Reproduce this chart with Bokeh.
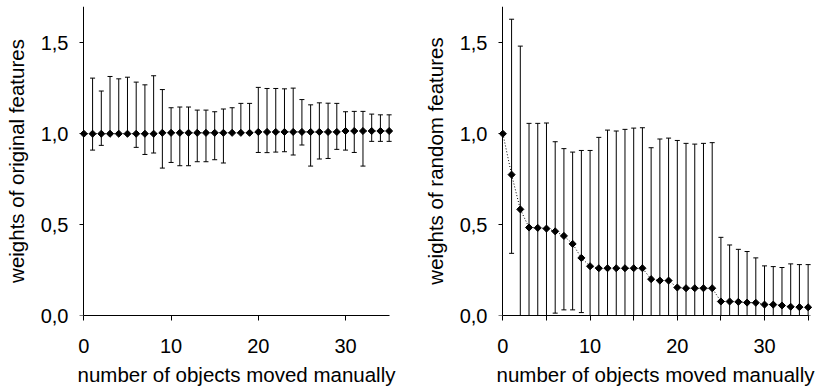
import math
from bokeh.plotting import figure
from bokeh.models import (Range1d, FixedTicker, CustomJSTickFormatter, Whisker,
                          TeeHead, ColumnDataSource, LinearAxis)
from bokeh.layouts import row
from bokeh.embed import file_html
from bokeh.resources import INLINE

# ---------------- data ----------------
moved = list(range(36))

orig_mean = [1.000, 1.000, 1.000, 1.000, 1.000, 1.000, 1.000, 1.000, 1.000, 1.005,
             1.005, 1.005, 1.005, 1.005, 1.005, 1.005, 1.005, 1.005, 1.005, 1.005,
             1.010, 1.010, 1.010, 1.010, 1.010, 1.010, 1.010, 1.010, 1.010, 1.010,
             1.015, 1.015, 1.015, 1.015, 1.015, 1.015]
orig_upper = [1.000, 1.306, 1.235, 1.315, 1.302, 1.311, 1.284, 1.269, 1.319, 1.243,
              1.143, 1.147, 1.147, 1.130, 1.130, 1.121, 1.136, 1.143, 1.167, 1.167,
              1.255, 1.249, 1.249, 1.247, 1.251, 1.188, 1.159, 1.170, 1.168, 1.167,
              1.121, 1.123, 1.123, 1.108, 1.104, 1.104]
orig_lower = [1.000, 0.910, 0.936, 1.000, 1.000, 1.000, 0.925, 0.886, 0.894, 0.811,
              0.842, 0.824, 0.824, 0.846, 0.846, 0.857, 0.839, 1.005, 1.005, 1.005,
              0.897, 0.896, 0.899, 0.901, 0.883, 0.938, 0.822, 0.861, 0.864, 0.914,
              0.910, 0.897, 0.822, 0.958, 0.958, 0.958]

rand_mean = [1.000, 0.775, 0.584, 0.484, 0.482, 0.478, 0.463, 0.438, 0.394, 0.317,
             0.271, 0.260, 0.260, 0.260, 0.260, 0.260, 0.260, 0.200, 0.192, 0.192,
             0.154, 0.150, 0.150, 0.150, 0.150, 0.077, 0.077, 0.075, 0.071, 0.070,
             0.060, 0.060, 0.055, 0.048, 0.046, 0.045]
rand_upper = [1.000, 1.630, 1.482, 1.057, 1.057, 1.059, 0.956, 0.918, 0.899, 0.908,
              0.908, 0.980, 1.020, 1.015, 1.024, 1.031, 1.033, 0.923, 0.971, 0.976,
              0.963, 0.947, 0.943, 0.947, 0.951, 0.430, 0.388, 0.364, 0.352, 0.317,
              0.273, 0.269, 0.264, 0.284, 0.280, 0.280]
rand_lower = [1.000, 0.342, 0.000, 0.000, 0.000, 0.000, 0.013, 0.031, 0.031, 0.016,
              0.000, 0.000, 0.000, 0.000, 0.000, 0.000, 0.000, 0.000, 0.000, 0.000,
              0.000, 0.000, 0.000, 0.000, 0.000, 0.000, 0.000, 0.000, 0.000, 0.000,
              0.000, 0.000, 0.000, 0.000, 0.000, 0.000]

y_ticks = [0.0, 0.5, 1.0, 1.5]
x_ticks_left = [0, 10, 20, 30]
x_ticks_right = [0, 5, 10, 15, 20, 25, 30, 35]
x_label = "number of objects moved manually"
y_label_left = "weights of original features"
y_label_right = "weights of random features"

FONT = "Liberation Sans"
TICK_FS = "20px"
LABEL_FS = "20.5px"


def style_text(ax):
    ax.major_label_text_font = FONT
    ax.major_label_text_font_size = TICK_FS
    ax.major_label_text_color = "black"
    ax.axis_label_text_font = FONT
    ax.axis_label_text_font_size = LABEL_FS
    ax.axis_label_text_font_style = "normal"
    ax.axis_label_text_color = "black"


def make_fig(mean, upper, lower, ylabel, xticks, border_right):
    p = figure(frame_width=314, frame_height=309,
               x_range=Range1d(-0.5, 35.5), y_range=Range1d(0, 1.7),
               output_backend="svg", toolbar_location=None,
               min_border_left=79, min_border_right=border_right,
               min_border_top=6, min_border_bottom=77)
    p.outline_line_color = None
    p.xgrid.visible = False
    p.ygrid.visible = False
    p.background_fill_color = "white"
    p.border_fill_color = "white"

    src = ColumnDataSource(dict(x=moved, mean=mean, upper=upper, lower=lower))
    w = Whisker(base="x", upper="upper", lower="lower", source=src,
                line_color="black", line_width=1, level="underlay",
                upper_head=TeeHead(size=5, line_color="black", line_width=1),
                lower_head=TeeHead(size=5, line_color="black", line_width=1))
    p.add_layout(w)
    p.line("x", "mean", source=src, line_color="black", line_width=1,
           line_dash="1 2")
    p.scatter("x", "mean", source=src, marker="square", size=5,
              angle=math.pi / 4, fill_color="black", line_color="black")

    # x axis
    xa = p.xaxis[0]
    xa.bounds = (0, 35)
    xa.ticker = FixedTicker(ticks=xticks)
    xa.formatter = CustomJSTickFormatter(
        code="return (tick % 10 === 0) ? tick.toFixed(0) : '';")
    xa.major_tick_out = 5
    xa.major_tick_in = 0
    xa.minor_tick_line_color = None
    xa.axis_line_color = "black"
    xa.major_tick_line_color = "black"
    xa.major_label_standoff = 18
    xa.axis_label = x_label
    xa.axis_label_standoff = 7
    style_text(xa)

    # y axis labels (at frame edge, no line / ticks)
    ya = p.yaxis[0]
    ya.ticker = FixedTicker(ticks=y_ticks)
    ya.formatter = CustomJSTickFormatter(
        code="return tick.toFixed(1).replace('.', ',');")
    ya.axis_line_color = None
    ya.major_tick_line_color = None
    ya.major_tick_out = 0
    ya.major_tick_in = 0
    ya.minor_tick_line_color = None
    ya.major_label_standoff = 11
    ya.axis_label = ylabel
    ya.axis_label_standoff = 10
    style_text(ya)

    # y axis line + ticks exactly at x = 0
    ya0 = LinearAxis(fixed_location=0, ticker=FixedTicker(ticks=y_ticks),
                     axis_line_color="black", major_tick_line_color="black",
                     major_tick_out=5, major_tick_in=0,
                     minor_tick_line_color=None,
                     major_label_text_color=None,
                     major_label_text_font_size="1px")
    p.add_layout(ya0, "left")
    return p


p1 = make_fig(orig_mean, orig_upper, orig_lower, y_label_left, x_ticks_left, 26)
p2 = make_fig(rand_mean, rand_upper, rand_lower, y_label_right, x_ticks_right, 7)

layout = row(p1, p2)
open("out.html", "w").write(file_html(layout, INLINE))
